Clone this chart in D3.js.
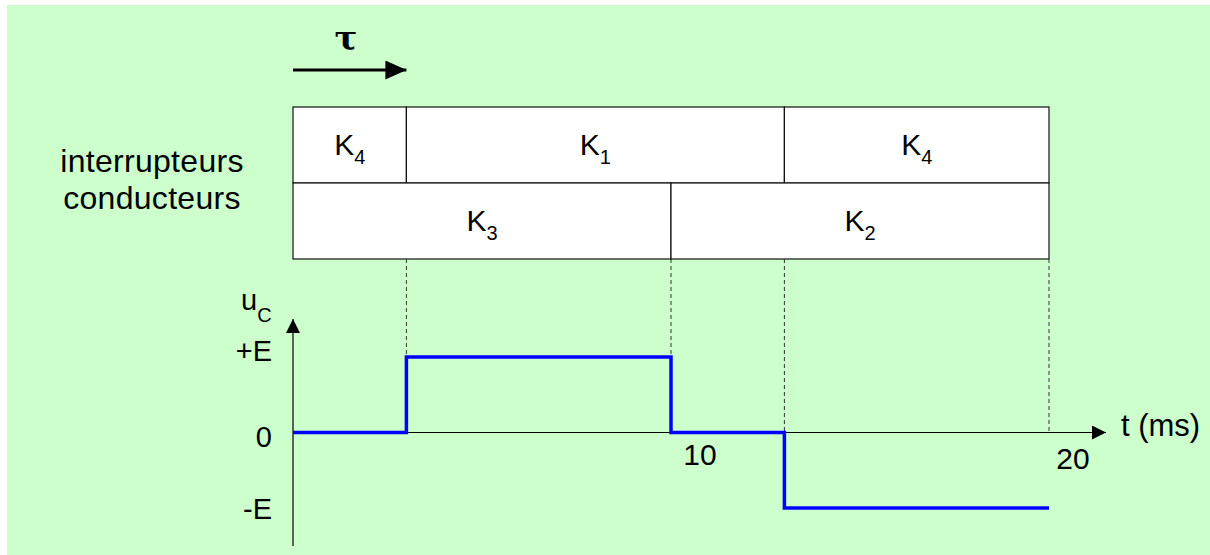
<!DOCTYPE html>
<html>
<head>
<meta charset="utf-8">
<script src="https://cdn.jsdelivr.net/npm/d3@7"></script>
<style>
  body { margin: 0; background: #fff; }
  text { font-family: "Liberation Sans", Arial, sans-serif; fill: #000; }
</style>
</head>
<body>
<div id="chart"></div>
<script>
// switch intervals (ms)
const topRow = [
  {name: "K", sub: "4", t0: 0, t1: 3},
  {name: "K", sub: "1", t0: 3, t1: 13},
  {name: "K", sub: "4", t0: 13, t1: 20}
];
const bottomRow = [
  {name: "K", sub: "3", t0: 0, t1: 10},
  {name: "K", sub: "2", t0: 10, t1: 20}
];
// u_C signal: step levels (+1 = +E, -1 = -E)
const stepTimes = [0, 3, 10, 13, 20];
const stepLevels = [0, 1, 0, -1];
const levelLabels = [{v: 1, label: "+E"}, {v: 0, label: "0"}, {v: -1, label: "-E"}];
const tickLabels = [{t: 10, label: "10"}, {t: 20, label: "20"}];
const guideTimes = [3, 10, 13, 20];

const W = 1210, H = 555;
const svg = d3.select("#chart").append("svg").attr("width", W).attr("height", H);

svg.append("rect").attr("x", 7).attr("y", 5).attr("width", W - 7).attr("height", H - 5)
  .attr("fill", "#ccffcc");

const x = d3.scaleLinear().domain([0, 20]).range([293, 1049]);
const y = d3.scaleLinear().domain([-1, 1]).range([508, 357]);

const defs = svg.append("defs");
function marker(id, len, wid) {
  defs.append("marker").attr("id", id).attr("viewBox", `0 0 ${len} ${wid}`)
    .attr("refX", len).attr("refY", wid / 2).attr("markerWidth", len).attr("markerHeight", wid)
    .attr("markerUnits", "userSpaceOnUse").attr("orient", "auto")
    .append("path").attr("d", `M0,0L${len},${wid / 2}L0,${wid}Z`).attr("fill", "#000");
}
marker("arrBig", 21, 19);
marker("arr", 14, 14);

// tau arrow
svg.append("line").attr("x1", x(0)).attr("x2", x(3)).attr("y1", 70).attr("y2", 70)
  .attr("stroke", "#000").attr("stroke-width", 3).attr("marker-end", "url(#arrBig)");
svg.append("text").attr("x", 346).attr("y", 50).attr("text-anchor", "middle")
  .style("font-family", "'DejaVu Serif', serif").style("font-size", "34px").style("font-weight", "bold")
  .text("τ");

// switch boxes
const rowTop = 107, rowH = 76;
function drawRow(data, y0) {
  const g = svg.append("g");
  g.selectAll("rect").data(data).join("rect")
    .attr("x", d => x(d.t0)).attr("y", y0)
    .attr("width", d => x(d.t1) - x(d.t0)).attr("height", rowH)
    .attr("fill", "#fff").attr("stroke", "#111").attr("stroke-width", 1.2);
  const t = g.selectAll("text").data(data).join("text")
    .attr("x", d => (x(d.t0) + x(d.t1)) / 2).attr("y", y0 + rowH / 2 + 10)
    .attr("text-anchor", "middle").style("font-size", "30px");
  t.append("tspan").text(d => d.name);
  t.append("tspan").attr("dy", 9).style("font-size", "20px").text(d => d.sub);
}
drawRow(topRow, rowTop);
drawRow(bottomRow, rowTop + rowH);

svg.append("text").attr("x", 152).attr("y", 172).attr("text-anchor", "middle")
  .style("font-size", "32px").style("letter-spacing", "0.3px").text("interrupteurs");
svg.append("text").attr("x", 152).attr("y", 209).attr("text-anchor", "middle")
  .style("font-size", "32px").style("letter-spacing", "0.3px").text("conducteurs");

// dashed guides
svg.append("g").selectAll("line").data(guideTimes).join("line")
  .attr("x1", d => x(d)).attr("x2", d => x(d))
  .attr("y1", rowTop + 2 * rowH).attr("y2", y(0))
  .attr("stroke", "#333").attr("stroke-width", 1).attr("stroke-dasharray", "4,3");

// axes
svg.append("line").attr("x1", x(0)).attr("x2", x(0)).attr("y1", 546).attr("y2", 319)
  .attr("stroke", "#000").attr("stroke-width", 1.2).attr("marker-end", "url(#arr)");
svg.append("line").attr("x1", x(0)).attr("x2", 1106).attr("y1", y(0)).attr("y2", y(0))
  .attr("stroke", "#000").attr("stroke-width", 1.2).attr("marker-end", "url(#arr)");

// signal
const pts = [];
stepLevels.forEach((v, i) => { pts.push([stepTimes[i], v]); pts.push([stepTimes[i + 1], v]); });
svg.append("path").datum(pts)
  .attr("d", d3.line().x(d => x(d[0])).y(d => y(d[1])))
  .attr("fill", "none").attr("stroke", "#0000ff").attr("stroke-width", 3.5);

// level labels
const levelDy = {"1": 4, "0": 14, "-1": 11};
svg.append("g").selectAll("text").data(levelLabels).join("text")
  .attr("x", 272).attr("y", d => y(d.v) + levelDy[d.v]).attr("text-anchor", "end")
  .style("font-size", "29px").text(d => d.label);

// u_C label
const uc = svg.append("text").attr("x", 241).attr("y", 310).style("font-size", "29px");
uc.append("tspan").text("u");
uc.append("tspan").attr("dy", 12).style("font-size", "20px").text("C");

// time ticks
svg.append("g").selectAll("text").data(tickLabels).join("text")
  .attr("x", d => x(d.t) + (d.t === 20 ? 24 : 29)).attr("y", d => y(0) + (d.t === 20 ? 36 : 32))
  .attr("text-anchor", "middle").style("font-size", "30px").text(d => d.label);

svg.append("text").attr("x", 1121).attr("y", 436).style("font-size", "31px").text("t (ms)");
</script>
</body>
</html>
